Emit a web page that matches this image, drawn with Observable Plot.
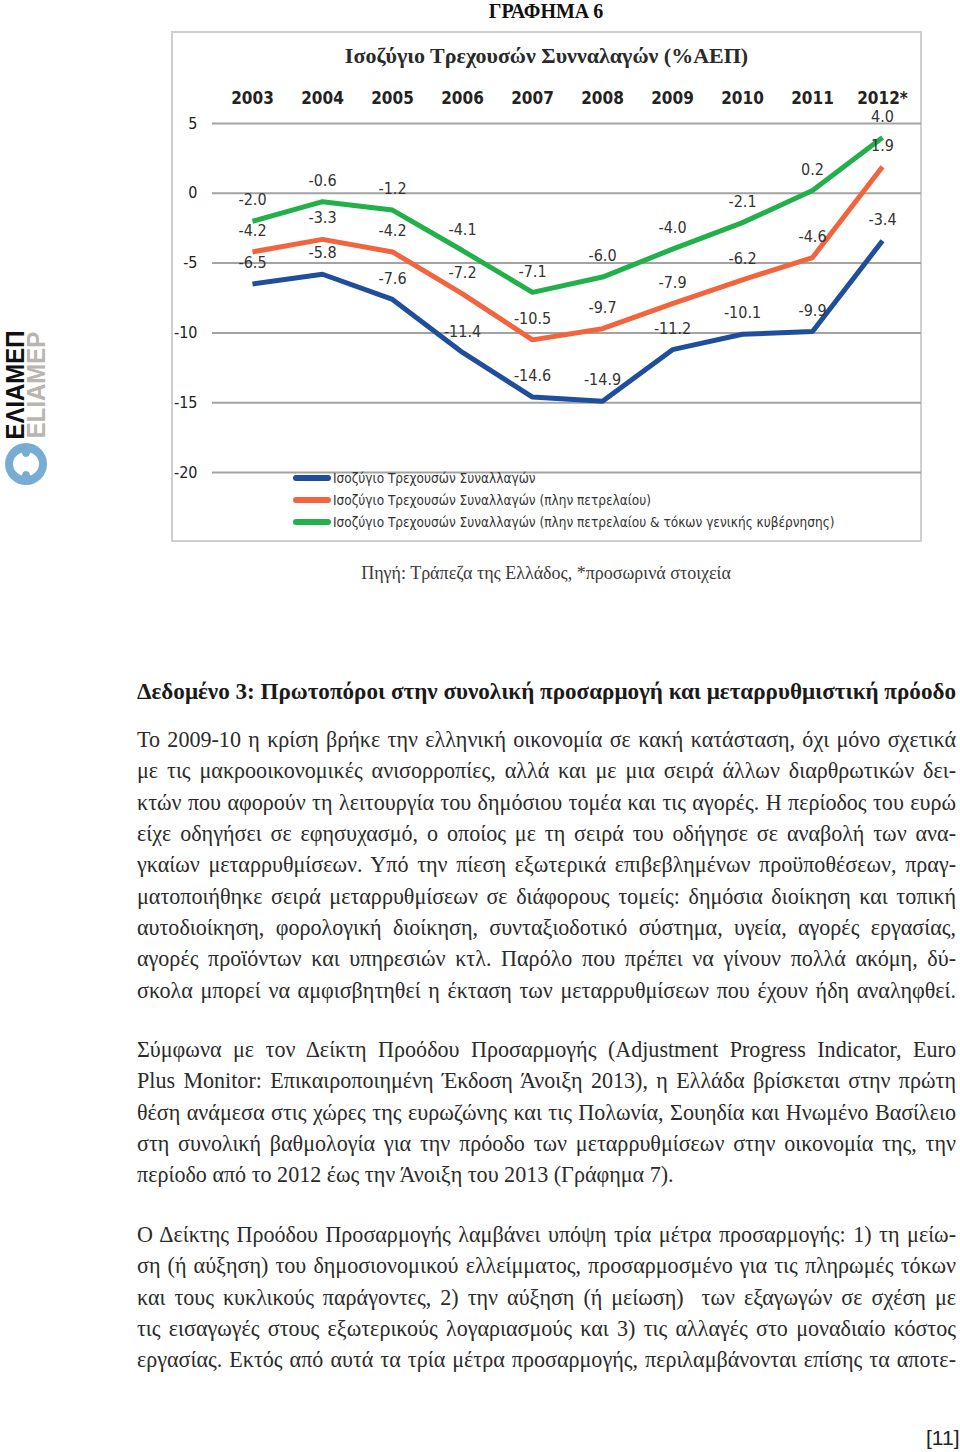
<!DOCTYPE html>
<html><head><meta charset="utf-8">
<script src="https://cdn.jsdelivr.net/npm/d3@7"></script>
<script src="https://cdn.jsdelivr.net/npm/@observablehq/plot@0.6"></script>
<style>
body{margin:0;background:#fff;}
#page{position:relative;width:960px;height:1452px;overflow:hidden;background:#fff;}
.abs{position:absolute;}
.serif{font-family:"Liberation Serif","DejaVu Serif",serif;}
.narrow{font-family:"Liberation Sans Narrow","DejaVu Sans Condensed","DejaVu Sans",sans-serif;}
.line{position:absolute;left:137px;width:819px;height:30px;line-height:30px;white-space:pre;overflow:visible;}
.line span{display:inline-block;white-space:pre;transform-origin:left center;}
</style></head><body><div id="page"></div>
<script>
// ---- chart data ----
const years = ["2003","2004","2005","2006","2007","2008","2009","2010","2011","2012*"];
const currentAccount = [-6.5,-5.8,-7.6,-11.4,-14.6,-14.9,-11.2,-10.1,-9.9,-3.4];
const currentAccountExOil = [-4.2,-3.3,-4.2,-7.2,-10.5,-9.7,-7.9,-6.2,-4.6,1.9];
const currentAccountExOilInterest = [-2.0,-0.6,-1.2,-4.1,-7.1,-6.0,-4.0,-2.1,0.2,4.0];
const seriesNames = [
  "Ισοζύγιο Τρεχουσών Συναλλαγών",
  "Ισοζύγιο Τρεχουσών Συναλλαγών (πλην πετρελαίου)",
  "Ισοζύγιο Τρεχουσών Συναλλαγών (πλην πετρελαίου & τόκων γενικής κυβέρνησης)"
];
const seriesColors = ["#1f4e9d","#f1643e","#22b04b"];
const yTicks = [5,0,-5,-10,-15,-20];
const chartTitle = "Ισοζύγιο Τρεχουσών Συνναλαγών (%ΑΕΠ)";

// ---- page texts ----
const pageTitle = "ΓΡΑΦΗΜΑ 6";
const sourceNote = "Πηγή: Τράπεζα της Ελλάδος, *προσωρινά στοιχεία";
const heading = "Δεδομένο 3: Πρωτοπόροι στην συνολική προσαρμογή και μεταρρυθμιστική πρόοδο";
const para1 = [
  "Το 2009-10 η κρίση βρήκε την ελληνική οικονομία σε κακή κατάσταση, όχι μόνο σχετικά",
  "με τις μακροοικονομικές ανισορροπίες, αλλά και με μια σειρά άλλων διαρθρωτικών δει-",
  "κτών που αφορούν τη λειτουργία του δημόσιου τομέα και τις αγορές. Η περίοδος του ευρώ",
  "είχε οδηγήσει σε εφησυχασμό, ο οποίος με τη σειρά του οδήγησε σε αναβολή των ανα-",
  "γκαίων μεταρρυθμίσεων. Υπό την πίεση εξωτερικά επιβεβλημένων προϋποθέσεων, πραγ-",
  "ματοποιήθηκε σειρά μεταρρυθμίσεων σε διάφορους τομείς: δημόσια διοίκηση και τοπική",
  "αυτοδιοίκηση, φορολογική διοίκηση, συνταξιοδοτικό σύστημα, υγεία, αγορές εργασίας,",
  "αγορές προϊόντων και υπηρεσιών κτλ. Παρόλο που πρέπει να γίνουν πολλά ακόμη, δύ-",
  "σκολα μπορεί να αμφισβητηθεί η έκταση των μεταρρυθμίσεων που έχουν ήδη αναληφθεί."
];
const para2 = [
  "Σύμφωνα με τον Δείκτη Προόδου Προσαρμογής (Adjustment Progress Indicator, Euro",
  "Plus Monitor: Επικαιροποιημένη Έκδοση Άνοιξη 2013), η Ελλάδα βρίσκεται στην πρώτη",
  "θέση ανάμεσα στις χώρες της ευρωζώνης και τις Πολωνία, Σουηδία και Ηνωμένο Βασίλειο",
  "στη συνολική βαθμολογία για την πρόοδο των μεταρρυθμίσεων στην οικονομία της, την",
  "περίοδο από το 2012 έως την Άνοιξη του 2013 (Γράφημα 7)."
];
const para3 = [
  "Ο Δείκτης Προόδου Προσαρμογής λαμβάνει υπόψη τρία μέτρα προσαρμογής: 1) τη μείω-",
  "ση (ή αύξηση) του δημοσιονομικού ελλείμματος, προσαρμοσμένο για τις πληρωμές τόκων",
  "και τους κυκλικούς παράγοντες, 2) την αύξηση (ή μείωση)  των εξαγωγών σε σχέση με",
  "τις εισαγωγές στους εξωτερικούς λογαριασμούς και 3) τις αλλαγές στο μοναδιαίο κόστος",
  "εργασίας. Εκτός από αυτά τα τρία μέτρα προσαρμογής, περιλαμβάνονται επίσης τα αποτε-"
];
const pageNumber = "[11]";

const page = document.getElementById("page");
function add(html){ const t=document.createElement("div"); t.innerHTML=html; const el=t.firstElementChild; page.appendChild(el); return el; }

// page title
add(`<div class="abs serif" style="left:0;width:1092px;top:0px;line-height:22px;text-align:center;font-weight:bold;font-size:20px;color:#111;">${pageTitle}</div>`);

// side logo
add(`<div class="abs" style="left:0;top:0;width:60px;height:500px;">
 <div style="position:absolute;left:-45px;top:372px;width:120px;height:26px;line-height:26px;text-align:center;transform:rotate(-90deg) scaleX(0.92);font-family:'Liberation Sans',sans-serif;font-weight:bold;font-size:26px;color:#111;">ΕΛΙΑΜΕΠ</div>
 <div style="position:absolute;left:-24px;top:372px;width:120px;height:26px;line-height:26px;text-align:center;transform:rotate(-90deg) scaleX(0.92);font-family:'Liberation Sans',sans-serif;font-weight:bold;font-size:26px;color:#bab5af;">ELIAMEP</div>
 <svg style="position:absolute;left:3px;top:442px" width="46" height="44" viewBox="0 0 46 44">
  <circle cx="23" cy="22" r="21" fill="#78acd3"/>
  <ellipse cx="23" cy="22" rx="13" ry="12" fill="#fff"/>
  <ellipse cx="23" cy="10.5" rx="4" ry="4.5" fill="#78acd3"/>
  <ellipse cx="23" cy="33.5" rx="4" ry="4.5" fill="#78acd3"/>
 </svg>
</div>`);

// chart box
add(`<div class="abs" style="left:171px;top:31px;width:747px;height:507px;border:2px solid #cfcfcf;background:#fff;"></div>`);
add(`<div class="abs serif" style="left:171px;width:751px;top:43px;text-align:center;font-weight:bold;font-size:22px;color:#2a2a2a;">${chartTitle}</div>`);

const rows = [];
[currentAccount, currentAccountExOil, currentAccountExOilInterest].forEach((vals, i) =>
  vals.forEach((v, j) => rows.push({year: years[j], value: v, series: seriesNames[i]})));

const chartFont = '"Liberation Sans Narrow","DejaVu Sans Condensed","DejaVu Sans",sans-serif';
const chart = Plot.plot({
  width: 749, height: 398,
  marginTop: 43, marginBottom: 6, marginLeft: 39, marginRight: 1,
  style: {fontFamily: chartFont, background: "transparent", color: "#222", overflow: "visible"},
  x: {type: "point", domain: years, padding: 0.52, label: null},
  y: {domain: [-20, 5], label: null},
  color: {domain: seriesNames, range: seriesColors},
  marks: [
    Plot.ruleY(yTicks, {stroke: "#a3a3a3", strokeWidth: 2}),
    Plot.line(rows, {x: "year", y: "value", z: "series", stroke: "series", strokeWidth: 5, strokeLinejoin: "miter", strokeLinecap: "butt"}),
    Plot.text(rows, {x: "year", y: "value", text: d => d.value.toFixed(1), dy: -21, fontSize: 16, fill: "#333"}),
    Plot.axisX({anchor: "top", tickSize: 0, tickPadding: 20, fontSize: 17, fontWeight: "bold", label: null}),
    Plot.axisY({ticks: yTicks, tickSize: 0, tickPadding: 15, tickFormat: d => String(d), fontSize: 16, label: null})
  ]
});
chart.style.position = "absolute";
chart.style.left = "173px";
chart.style.top = "80px";
page.appendChild(chart);

// legend
seriesNames.forEach((s, i) => {
  const y = 478 + i * 22;
  add(`<div class="abs" style="left:293px;top:${y-3}px;width:38px;height:6px;border-radius:3px;background:${seriesColors[i]};"></div>`);
  add(`<div class="abs narrow" style="left:333px;top:${y-10}px;height:20px;line-height:20px;font-size:13.5px;color:#333;white-space:nowrap;">${s}</div>`);
});

// source note
add(`<div class="abs serif" style="left:0;width:1092px;top:563px;text-align:center;font-size:18px;color:#3a3a3a;">${sourceNote}</div>`);

// body text
const lines = [];
function placeLine(text, cy, opts){
  const el = add(`<div class="line serif" style="top:${cy-15}px;font-size:${opts.size}px;font-weight:${opts.bold?'bold':'normal'};color:${opts.color};"><span></span></div>`);
  el.firstChild.textContent = text;
  lines.push({el, justify: opts.justify, s0: opts.s0});
}
placeLine(heading, 691, {size: 24, bold: true, color: "#1a1a1a", justify: true, s0: 0.98});
const lh = 31.35;
const bodyOpts = {size: 24, color: "#2b2b2b", s0: 0.92};
para1.forEach((t, i) => placeLine(t, 739 + i * lh, {...bodyOpts, justify: true}));
para2.forEach((t, i) => placeLine(t, 1049 + i * lh, {...bodyOpts, justify: i < para2.length - 1}));
para3.forEach((t, i) => placeLine(t, 1234 + i * lh, {...bodyOpts, justify: true}));

function fit(){
  const target = 819;
  lines.forEach(({el, justify, s0}) => {
    const span = el.firstChild;
    span.style.transform = ""; span.style.wordSpacing = "";
    const w = span.getBoundingClientRect().width;
    if (w * s0 > target) {
      span.style.transform = `scaleX(${target / w})`;
    } else {
      span.style.transform = `scaleX(${s0})`;
      if (justify) {
        const gaps = (span.textContent.match(/ /g) || []).length;
        if (gaps) span.style.wordSpacing = ((target / s0 - w) / gaps) + "px";
      }
    }
  });
}
fit();
if (document.fonts && document.fonts.ready) document.fonts.ready.then(fit);

// page number
add(`<div class="abs" style="left:926px;top:1426px;font-family:'Liberation Sans',sans-serif;font-size:21px;color:#222;">${pageNumber}</div>`);
</script></body></html>
